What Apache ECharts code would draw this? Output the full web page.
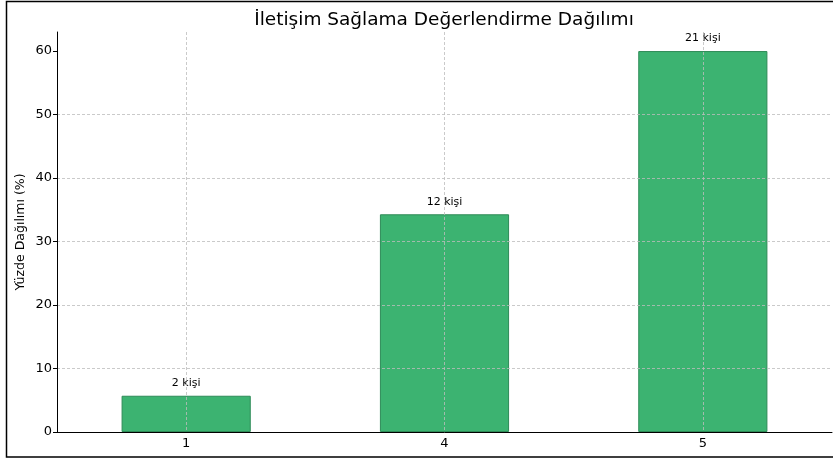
<!DOCTYPE html>
<html>
<head>
<meta charset="utf-8">
<script src="https://cdn.jsdelivr.net/npm/echarts@6/dist/echarts.min.js"></script>
<style>
  html, body { margin: 0; padding: 0; background: #fff; }
  #chart { width: 833px; height: 460px; }
</style>
</head>
<body>
<div id="chart"></div>
<script>
const TITLE = "İletişim Sağlama Değerlendirme Dağılımı";
const Y_NAME = "Yüzde Dağılımı (%)";
const categories = ["1", "4", "5"];
const percents = [5.71, 34.29, 60.0];
const counts = [2, 12, 21];
const yTicks = [0, 10, 20, 30, 40, 50, 60];

// helper axis: half-step slots so vertical grid lines sit on category centres
const halfSlots = ["", "1", "", "4", "", "5", ""];

const FONT = "DejaVu Sans";
const chart = echarts.init(document.getElementById("chart"));

chart.setOption({
  animation: false,
  textStyle: { fontFamily: FONT },
  grid: { left: 57, right: 1, top: 32, bottom: 28 },
  xAxis: [
    {
      type: "category",
      data: categories,
      z: 3,
      axisLine: { lineStyle: { color: "#000", width: 1 } },
      axisTick: { alignWithLabel: true, length: 4, lineStyle: { color: "#000" } },
      axisLabel: { color: "#000", fontSize: 13, fontFamily: FONT, margin: 5 },
      splitLine: { show: false }
    },
    {
      type: "category",
      data: halfSlots,
      boundaryGap: false,
      position: "bottom",
      z: 3,
      axisLine: { show: false },
      axisTick: { show: false },
      axisLabel: { show: false },
      splitLine: {
        show: true,
        interval: (i) => i % 2 === 1,
        lineStyle: { color: "#bdbdbd", type: [3, 2], width: 0.8 }
      }
    }
  ],
  yAxis: {
    type: "value",
    min: 0,
    max: 63,
    interval: 10,
    z: 3,
    axisLine: { show: true, lineStyle: { color: "#000", width: 1 } },
    axisTick: { show: true, length: 4, customValues: yTicks, lineStyle: { color: "#000" } },
    axisLabel: { color: "#000", fontSize: 13, fontFamily: FONT, margin: 5, showMaxLabel: false },
    splitLine: {
      show: true,
      showMaxLine: false,
      lineStyle: { color: "#bdbdbd", type: [3, 2], width: 0.8 }
    }
  },
  graphic: [
    {
      type: "rect",
      silent: true,
      shape: { x: 6.5, y: 1.5, width: 1000, height: 455.5 },
      style: { fill: "none", stroke: "#000", lineWidth: 1.5 }
    },
    {
      type: "text",
      x: 444,
      y: 20,
      style: {
        text: TITLE,
        font: "18.5px '" + FONT + "'",
        fill: "#000",
        textAlign: "center",
        textVerticalAlign: "middle"
      }
    },
    {
      type: "text",
      x: 21,
      y: 232,
      rotation: Math.PI / 2,
      style: {
        text: Y_NAME,
        font: "12.5px '" + FONT + "'",
        fill: "#000",
        textAlign: "center",
        textVerticalAlign: "middle"
      }
    }
  ],
  series: [
    {
      type: "bar",
      xAxisIndex: 0,
      data: percents,
      barWidth: "50%",
      z: 1,
      itemStyle: { color: "#3CB371", borderColor: "#2E8B57", borderWidth: 1 },
      label: {
        show: true,
        position: "top",
        distance: 7,
        fontSize: 11,
        fontFamily: FONT,
        color: "#000",
        formatter: (p) => counts[p.dataIndex] + " kişi"
      }
    }
  ]
});
</script>
</body>
</html>
